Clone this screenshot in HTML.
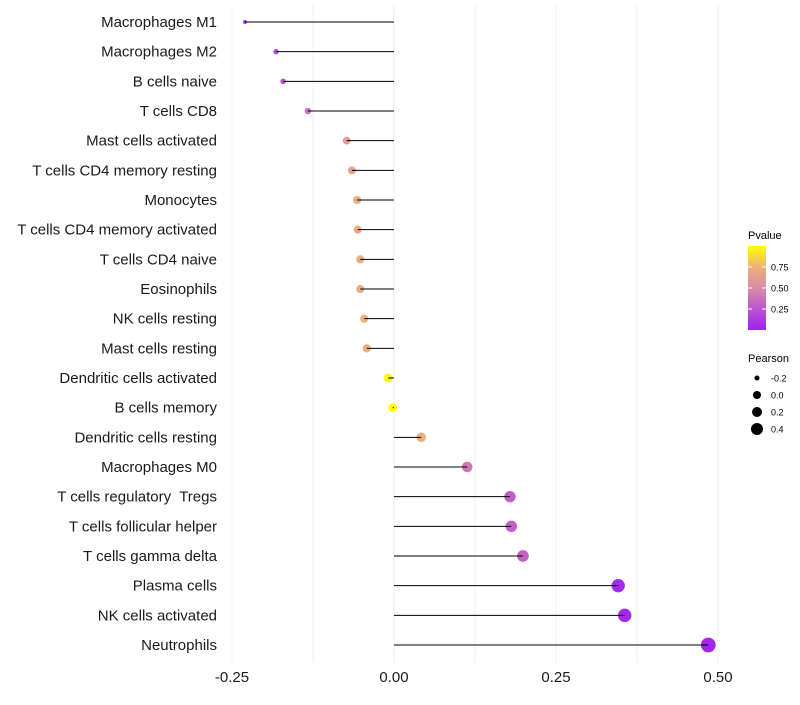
<!DOCTYPE html>
<html><head><meta charset="utf-8"><style>body{margin:0;background:#fff}svg{font-family:"Liberation Sans",sans-serif}text{white-space:pre}</style></head>
<body>
<svg id="chart" width="800" height="700" xmlns="http://www.w3.org/2000/svg"></svg>
<script>
const categories=["Macrophages M1","Macrophages M2","B cells naive","T cells CD8","Mast cells activated","T cells CD4 memory resting","Monocytes","T cells CD4 memory activated","T cells CD4 naive","Eosinophils","NK cells resting","Mast cells resting","Dendritic cells activated","B cells memory","Dendritic cells resting","Macrophages M0","T cells regulatory  Tregs","T cells follicular helper","T cells gamma delta","Plasma cells","NK cells activated","Neutrophils"];
const pearson=[-0.230,-0.182,-0.171,-0.133,-0.073,-0.065,-0.057,-0.056,-0.052,-0.052,-0.046,-0.042,-0.009,-0.002,0.042,0.113,0.179,0.181,0.199,0.346,0.356,0.485];
const pvalues=[0.08,0.2,0.25,0.4,0.6,0.66,0.7,0.7,0.72,0.72,0.75,0.75,0.98,0.99,0.72,0.4,0.3,0.3,0.3,0.04,0.04,0.02];
const xTicks=[-0.25,0,0.25,0.5];
const xTickLabels=["-0.25","0.00","0.25","0.50"];
const NS="http://www.w3.org/2000/svg",svg=document.getElementById('chart');
function el(t,a,p){const e=document.createElementNS(NS,t);for(const k in a)e.setAttribute(k,a[k]);(p||svg).appendChild(e);return e;}
const x=v=>394+v*648, y=i=>22+i*29.667;
const stops=[[0,[160,32,240]],[0.5,[217,140,168]],[0.75,[238,176,122]],[1,[255,255,0]]];
function col(p){for(let i=1;i<stops.length;i++){if(p<=stops[i][0]){const a=stops[i-1],b=stops[i],t=(p-a[0])/(b[0]-a[0]);return 'rgb('+a[1].map((c,j)=>Math.round(c+(b[1][j]-c)*t)).join(',')+')';}}return 'rgb(255,255,0)';}
const r=v=>Math.sqrt(4+(v+0.23)*70);
for(let k=-2;k<=4;k++){const v=k*0.125;const g=el('line',{x1:x(v),x2:x(v),y1:5,y2:662,stroke:'#f0f0f0','stroke-width':1});}
xTicks.forEach((t,i)=>{const tx=el('text',{x:x(t),y:682,'text-anchor':'middle','font-size':15,fill:'#1a1a1a'});tx.textContent=xTickLabels[i];});
categories.forEach((c,i)=>{
const t=el('text',{x:217,y:y(i)+5,'text-anchor':'end','font-size':15,fill:'#1a1a1a','xml:space':'preserve'});t.textContent=c;


const d=el('circle',{cx:x(pearson[i]),cy:y(i),r:r(pearson[i]),fill:col(pvalues[i])});


const l=el('line',{x1:x(0),x2:x(pearson[i]),y1:y(i),y2:y(i),stroke:'#000','stroke-width':1});


});
const defs=el('defs',{});const lg=el('linearGradient',{id:'pg',x1:0,y1:1,x2:0,y2:0},defs);
stops.forEach(s=>el('stop',{offset:s[0],'stop-color':col(s[0])},lg));
const lt=el('text',{x:748,y:239,'font-size':11});lt.textContent='Pvalue';
const cb=el('rect',{x:748,y:246,width:18,height:84,fill:'url(#pg)'});
[[0.75,267],[0.5,288],[0.25,309]].forEach(a=>{el('line',{x1:748,x2:752,y1:a[1],y2:a[1],stroke:'#fff'});el('line',{x1:762,x2:766,y1:a[1],y2:a[1],stroke:'#fff'});const t=el('text',{x:771,y:a[1]+3.5,'font-size':9});t.textContent=a[0].toFixed(2);});
const pt=el('text',{x:748,y:362,'font-size':11});pt.textContent='Pearson';
[["-0.2",378,2.5],["0.0",395,4],["0.2",412,5],["0.4",429,6]].forEach(a=>{const c=el('circle',{cx:757,cy:a[1],r:a[2],fill:'#000'});const t=el('text',{x:771,y:a[1]+3.5,'font-size':9});t.textContent=a[0];});
</script>
</body></html>
